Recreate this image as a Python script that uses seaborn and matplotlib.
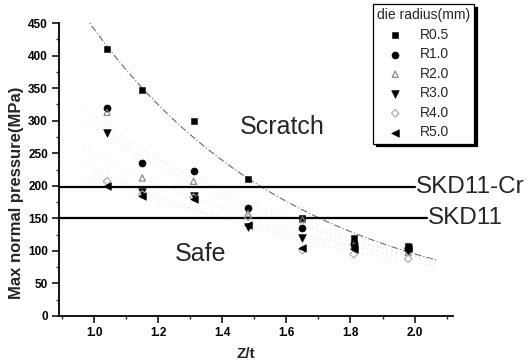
import numpy as np
import pandas as pd
import matplotlib
matplotlib.use("Agg")
import matplotlib.pyplot as plt
import seaborn as sns
from matplotlib.ticker import MultipleLocator

# ---- data ----
zt = [1.04, 1.15, 1.31, 1.48, 1.65, 1.81, 1.98]
r05 = [410, 347, 299, 210, 150, 120, 107]
r10 = [319, 235, 223, 166, 135, 112, 103]
r20 = [313, 212, 207, 158, 148, 108, 98]
r30 = [281, 190, 184, 137, 120, 105, 100]
r40 = [207, 187, 182, 152, 101, 95, 88]
r50 = [200, 185, 180, 140, 104, 103, 104]
series_names = ["R0.5", "R1.0", "R2.0", "R3.0", "R4.0", "R5.0"]
thresholds = [198, 150]
threshold_labels = ["SKD11-Cr", "SKD11"]
threshold_ends = [2.0, 2.04]
x_ticks = [1.0, 1.2, 1.4, 1.6, 1.8, 2.0]
y_ticks = [0, 50, 100, 150, 200, 250, 300, 350, 400, 450]

rows = []
for name, vals in zip(series_names, [r05, r10, r20, r30, r40, r50]):
    for xv, yv in zip(zt, vals):
        rows.append({"zt": xv, "p": yv, "radius": name})
df = pd.DataFrame(rows)

sns.set_style("ticks")
plt.rcParams["font.family"] = ["Liberation Sans", "DejaVu Sans"]

fig = plt.figure(figsize=(5.32, 3.63), dpi=100)
ax = fig.add_axes([59 / 532, 1 - 316 / 363, 394 / 532, 293 / 363])

styles = {
    "R0.5": dict(marker="s", s=22, color="black", edgecolor="black"),
    "R1.0": dict(marker="o", s=26, color="black", edgecolor="black"),
    "R2.0": dict(marker="^", s=20, facecolor="none", edgecolor="#808080", linewidth=0.8),
    "R3.0": dict(marker="v", s=30, color="black", edgecolor="black"),
    "R4.0": dict(marker="D", s=15, facecolor="none", edgecolor="#a8a8a8", linewidth=0.8),
    "R5.0": dict(marker="<", s=30, color="black", edgecolor="black"),
}

# fitted exponential trend curves (log-linear fit)
xfit = np.linspace(0.97, 2.07, 200)
for name in series_names:
    sub = df[df.radius == name]
    coef = np.polyfit(sub.zt, np.log(sub.p), 1)
    yfit = np.exp(np.polyval(coef, xfit))
    if name == "R0.5":
        ax.plot(xfit, yfit, color="#6a6a6a", lw=0.8, ls=(0, (6, 2, 1, 2)), zorder=1)
    else:
        ax.plot(xfit, yfit, color="#dedede", lw=0.7, ls=(0, (1, 4)), zorder=1)

for name in series_names:
    sub = df[df.radius == name]
    sns.scatterplot(data=sub, x="zt", y="p", ax=ax, label=name, zorder=3, **styles[name])

# threshold lines
for th, lab, xe in zip(thresholds, threshold_labels, threshold_ends):
    ax.plot([0.89, xe], [th, th], color="black", lw=1.6, zorder=2, clip_on=False)
    ax.text(xe + 0.003, th, lab, fontsize=17.5, ha="left", va="center")

ax.text(1.455, 290, "Scratch", fontsize=18, ha="left", va="center")
ax.text(1.25, 95, "Safe", fontsize=18, ha="left", va="center")

ax.set_xlim(0.89, 2.12)
ax.set_ylim(0, 450)
ax.set_xticks(x_ticks)
ax.set_yticks(y_ticks)
ax.xaxis.set_minor_locator(MultipleLocator(0.1))
ax.yaxis.set_minor_locator(MultipleLocator(25))
ax.set_xticklabels([f"{v:.1f}" for v in x_ticks], fontweight="bold", fontsize=8.5)
ax.set_yticklabels([str(v) for v in y_ticks], fontweight="bold", fontsize=8.5)
ax.tick_params(axis="both", which="major", direction="out", length=5, width=1.1, pad=3, colors="black")
ax.tick_params(axis="both", which="minor", direction="out", length=2.5, width=1.0)

for sp in ["top", "right"]:
    ax.spines[sp].set_visible(False)
for sp in ["left", "bottom"]:
    ax.spines[sp].set_linewidth(1.3)
    ax.spines[sp].set_color("black")

ax.set_xlabel("Z/t", fontweight="bold", fontsize=11)
ax.set_ylabel("Max normal pressure(MPa)", fontweight="bold", fontsize=12)
ax.xaxis.set_label_coords(0.475, -0.105)
ax.yaxis.set_label_coords(-0.09, 0.42)

leg = ax.legend(
    title="die radius(mm)",
    loc="upper left",
    bbox_to_anchor=(373 / 532, 1 - 4 / 363),
    bbox_transform=fig.transFigure,
    fontsize=10,
    title_fontsize=10,
    frameon=True,
    fancybox=False,
    shadow={"color": "black", "alpha": 1},
    borderpad=0.3,
    labelspacing=0.4,
    handlelength=2.6,
    handletextpad=0.5,
    borderaxespad=0,
    alignment="left",
)
leg.get_frame().set_edgecolor("black")
leg.get_frame().set_linewidth(0.9)
leg.get_frame().set_alpha(1)

fig.savefig("out.png", dpi=100)
